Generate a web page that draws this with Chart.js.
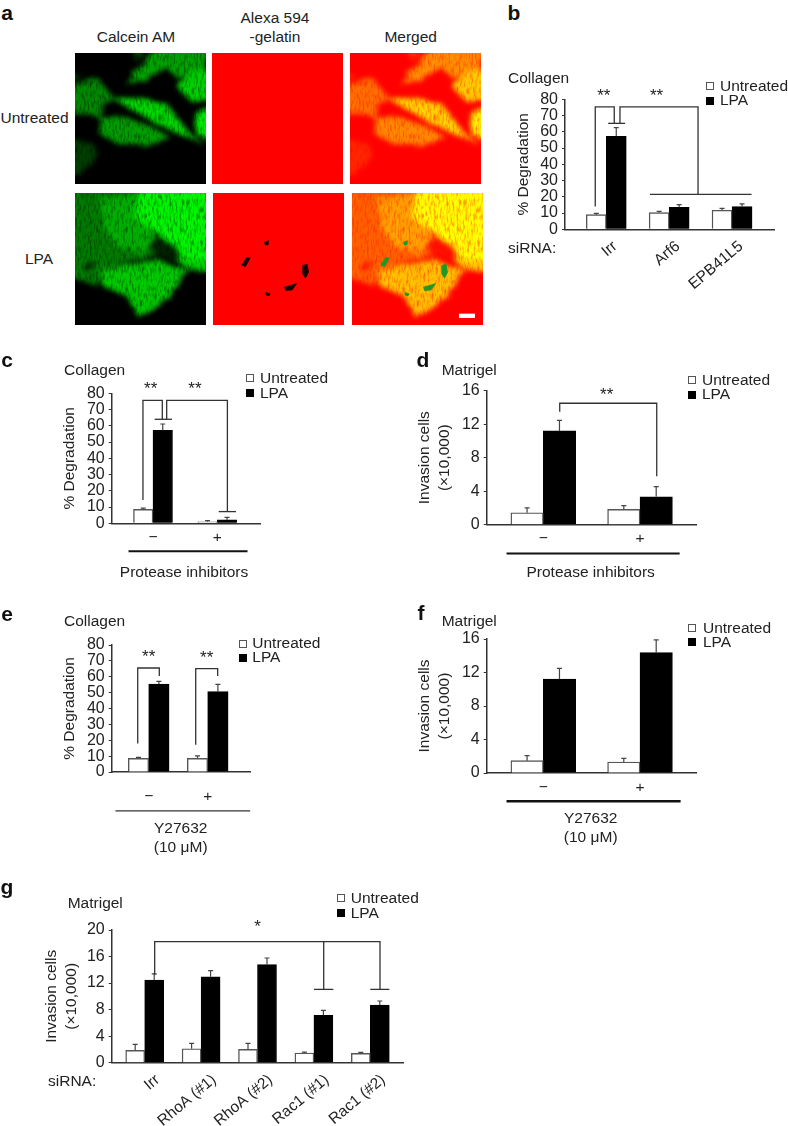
<!DOCTYPE html>
<html>
<head>
<meta charset="utf-8">
<title>Figure</title>
<script src="https://cdn.jsdelivr.net/npm/chart.js@4/dist/chart.umd.min.js"></script>
<style>
  html, body { margin: 0; padding: 0; background: #fff; }
  #page { position: relative; width: 788px; height: 1126px; overflow: hidden; font-family: "Liberation Sans", Arial, sans-serif; color: #222; }
  #page canvas, #page svg { position: absolute; }
  .lbl { position: absolute; white-space: nowrap; font-size: 15.5px; line-height: 18px; }
  .letter { font-size: 21px; font-weight: bold; color: #111; }
  .swatch { position: absolute; width: 6px; height: 6px; border: 1.2px solid #555; background: #fff; }
  .swatch.on { background: #000; border-color: #000; }
</style>
</head>
<body>
<div id="page"></div>
<script>
const legendLabels = ["Untreated", "LPA"];

// panel b
const bLabels = ["Irr", "Arf6", "EPB41L5"];
const bUntreated = [9.0, 10.3, 11.7];
const bLpa = [57.2, 13.5, 14.0];
const bUntreatedErr = [9.8, 11.0, 12.9];
const bLpaErr = [62.6, 15.2, 15.6];

// panel c
const cLabels = ["−", "+"];
const cUntreated = [8.6, 0.9];
const cLpa = [57.2, 2.1];
const cUntreatedErr = [9.4, 1.6];
const cLpaErr = [61.1, 3.7];

// panel d
const dLabels = ["−", "+"];
const dUntreated = [1.43, 1.83];
const dLpa = [11.2, 3.34];
const dUntreatedErr = [2.0, 2.27];
const dLpaErr = [12.46, 4.54];

// panel e
const eLabels = ["−", "+"];
const eUntreated = [8.6, 8.6];
const eLpa = [55.4, 50.6];
const eUntreatedErr = [9.2, 10.1];
const eLpaErr = [57.1, 55.2];

// panel f
const fLabels = ["−", "+"];
const fUntreated = [1.47, 1.31];
const fLpa = [11.2, 14.37];
const fUntreatedErr = [2.07, 1.75];
const fLpaErr = [12.5, 15.9];

// panel g
const gLabels = ["Irr", "RhoA (#1)", "RhoA (#2)", "Rac1 (#1)", "Rac1 (#2)"];
const gUntreated = [1.86, 2.1, 2.0, 1.46, 1.4];
const gLpa = [12.46, 12.96, 14.77, 7.14, 8.7];
const gUntreatedErr = [2.76, 2.9, 2.9, 1.6, 1.56];
const gLpaErr = [13.4, 13.87, 15.78, 7.9, 9.3];

// significance brackets, in axis units (x = group number, y = axis value)
const bBrackets = [
  { pts: [[0.825, 14], [0.825, 75.3], [1.127, 75.3], [1.127, 65.2]] },
  { pts: [[1.03, 65.2], [1.30, 65.2]] },
  { pts: [[1.218, 65.2], [1.218, 75.3], [2.459, 75.3], [2.459, 21.5]] },
  { pts: [[1.695, 21.5], [3.31, 21.5]] },
];
const bStars = [{ x: 0.96, y: 83.7, t: "**" }, { x: 1.80, y: 83.7, t: "**" }];

const cBrackets = [
  { pts: [[0.844, 14.4], [0.844, 75.7], [1.145, 75.7], [1.145, 64]] },
  { pts: [[1.026, 64], [1.295, 64]] },
  { pts: [[1.213, 64], [1.213, 75.7], [2.157, 75.7], [2.157, 7.2]] },
  { pts: [[2.022, 7.2], [2.291, 7.2]] },
  { pts: [[0.62, -17.2], [2.47, -17.2]], w: 2.2, c: "#111" },
];
const cStars = [{ x: 0.964, y: 84.1, t: "**" }, { x: 1.653, y: 84.1, t: "**" }];

const dBrackets = [
  { pts: [[1.17, 13.5], [1.17, 14.5], [2.173, 14.5], [2.173, 5.8]] },
  { pts: [[0.62, -3.45], [2.41, -3.45]], w: 2, c: "#111" },
];
const dStars = [{ x: 1.655, y: 15.8, t: "**" }];

const eBrackets = [
  { pts: [[0.814, 18], [0.814, 65.5], [1.18, 65.5], [1.18, 60.5]] },
  { pts: [[1.797, 17.2], [1.797, 65.1], [2.169, 65.1], [2.169, 60.5]] },
  { pts: [[0.437, -24.5], [2.72, -24.5]] },
];
const eStars = [{ x: 1.0, y: 74.1, t: "**" }, { x: 1.983, y: 73.3, t: "**" }];

const fBrackets = [
  { pts: [[0.62, -3.37], [2.42, -3.37]], w: 2.4, c: "#111" },
];

const gBrackets = [
  { pts: [[1.177, 13.2], [1.177, 18.24], [5.172, 18.24], [5.172, 11.05]] },
  { pts: [[4.174, 18.24], [4.174, 11.05]] },
  { pts: [[4.002, 11.05], [4.344, 11.05]] },
  { pts: [[5.0, 11.05], [5.337, 11.05]] },
];
const gStars = [{ x: 3.0, y: 20.85, t: "*" }];

const page = document.getElementById("page");

// draws the upper error whiskers, the brackets and the stars through the scales
const markup = {
  id: "markup",
  afterDatasetsDraw(chart, args, opts) {
    const { ctx, scales: { x, y } } = chart;
    ctx.save();
    chart.data.datasets.forEach((ds, di) => {
      const meta = chart.getDatasetMeta(di);
      ctx.strokeStyle = "#444";
      ctx.lineWidth = 1.2;
      ds.errTop.forEach((v, i) => {
        const bx = meta.data[i].x;
        const top = y.getPixelForValue(v);
        ctx.beginPath();
        ctx.moveTo(bx, meta.data[i].y);
        ctx.lineTo(bx, top);
        ctx.moveTo(bx - 2.5, top);
        ctx.lineTo(bx + 2.5, top);
        ctx.stroke();
      });
    });
    (opts.brackets || []).forEach((b) => {
      ctx.strokeStyle = b.c || "#333";
      ctx.lineWidth = b.w || 1.3;
      ctx.beginPath();
      b.pts.forEach((p, i) => {
        const px = x.getPixelForValue(p[0]);
        const py = y.getPixelForValue(p[1]);
        if (i === 0) ctx.moveTo(px, py);
        else ctx.lineTo(px, py);
      });
      ctx.stroke();
    });
    ctx.fillStyle = "#222";
    ctx.font = '17px "Liberation Sans"';
    ctx.textAlign = "center";
    ctx.textBaseline = "middle";
    (opts.stars || []).forEach((s) => {
      ctx.fillText(s.t, x.getPixelForValue(s.x), y.getPixelForValue(s.y) + 3);
    });
    ctx.restore();
  },
};

function barPanel(cfg) {
  const cv = document.createElement("canvas");
  cv.width = cfg.box.w;
  cv.height = cfg.box.h;
  cv.style.left = cfg.box.x + "px";
  cv.style.top = cfg.box.y + "px";
  page.appendChild(cv);

  const toPoints = (arr) => arr.map((v, i) => ({ x: i + 1, y: v }));
  const groups = cfg.labels.map((_, i) => i + 1);

  return new Chart(cv.getContext("2d"), {
    type: "bar",
    data: {
      datasets: [
        {
          label: legendLabels[0],
          data: toPoints(cfg.untreated),
          errTop: cfg.untreatedErr,
          backgroundColor: "#fff",
          borderColor: "#555",
          borderWidth: 1.4,
          barThickness: cfg.barW,
        },
        {
          label: legendLabels[1],
          data: toPoints(cfg.lpa),
          errTop: cfg.lpaErr,
          backgroundColor: "#000",
          borderColor: "#000",
          borderWidth: 1,
          barThickness: cfg.barW,
        },
      ],
    },
    options: {
      responsive: false,
      animation: false,
      layout: {
        padding: {
          left: 0,
          bottom: 0,
          top: cfg.axis.top - cfg.box.y,
          right: cfg.box.x + cfg.box.w - cfg.axis.right,
        },
      },
      scales: {
        x: {
          type: "linear",
          offset: false,
          min: cfg.xMin,
          max: cfg.xMax,
          afterBuildTicks: (s) => { s.ticks = groups.map((v) => ({ value: v })); },
          afterFit: (s) => { s.height = cfg.box.y + cfg.box.h - cfg.axis.bottom; },
          grid: { display: false, drawTicks: false },
          border: { color: "#333", width: 1.5 },
          ticks: {
            autoSkip: false,
            minRotation: cfg.rot || 0,
            maxRotation: cfg.rot || 0,
            padding: cfg.tickPad,
            labelOffset: cfg.labelOffset || 0,
            color: "#222",
            font: { family: "Liberation Sans", size: 15.5 },
            callback: (v) => cfg.labels[v - 1],
          },
        },
        y: {
          min: 0,
          max: cfg.yMax,
          afterFit: (s) => { s.width = cfg.axis.left - cfg.box.x; },
          grid: { drawOnChartArea: false, tickLength: 3, tickColor: "#333" },
          border: { color: "#333", width: 1.5 },
          ticks: { stepSize: cfg.yStep, autoSkip: false, padding: 4, color: "#222", font: { family: "Liberation Sans", size: 16 } },
          title: {
            display: true,
            text: cfg.yTitle,
            color: "#222",
            font: { family: "Liberation Sans", size: 15.5, lineHeight: 1.29 },
            padding: { top: cfg.titleX - cfg.box.x - 10, bottom: 0 },
          },
        },
      },
      plugins: {
        legend: { display: false },
        tooltip: { enabled: false },
        markup: { brackets: cfg.brackets, stars: cfg.stars },
      },
    },
    plugins: [markup],
  });
}

function label(text, x, y, cls) {
  const d = document.createElement("div");
  d.className = "lbl" + (cls ? " " + cls : "");
  d.textContent = text;
  d.style.left = x + "px";
  d.style.top = y + "px";
  d.style.transform = "translateY(-50%)";
  page.appendChild(d);
  return d;
}
function centered(text, x, y, cls) {
  const d = label(text, x, y, cls);
  d.style.transform = "translate(-50%,-50%)";
}
function legendAt(x, y1, y2, textX, t1, t2) {
  [[y1, t1, ""], [y2, t2, " on"]].forEach(([sy, ty, on], i) => {
    const s = document.createElement("div");
    s.className = "swatch" + on;
    s.style.left = x + "px";
    s.style.top = sy + "px";
    page.appendChild(s);
    label(legendLabels[i], textX, ty);
  });
}

barPanel({
  box: { x: 490, y: 60, w: 298, h: 250 }, axis: { left: 565, right: 774, top: 99.3, bottom: 229.3 },
  xMin: 0.344, xMax: 3.667, yMax: 80, yStep: 10, barW: 20, tickPad: 8, rot: 40, labelOffset: 9,
  labels: bLabels, untreated: bUntreated, lpa: bLpa, untreatedErr: bUntreatedErr, lpaErr: bLpaErr,
  yTitle: "% Degradation", titleX: 523.3, brackets: bBrackets, stars: bStars,
});
barPanel({
  box: { x: 0, y: 340, w: 350, h: 230 }, axis: { left: 111.7, right: 260, top: 393.3, bottom: 523.3 },
  xMin: 0.358, xMax: 2.664, yMax: 80, yStep: 10, barW: 19.5, tickPad: 5,
  labels: cLabels, untreated: cUntreated, lpa: cLpa, untreatedErr: cUntreatedErr, lpaErr: cLpaErr,
  yTitle: "% Degradation", titleX: 70, brackets: cBrackets, stars: cStars,
});
barPanel({
  box: { x: 400, y: 340, w: 388, h: 230 }, axis: { left: 486.7, right: 696, top: 390.7, bottom: 524.7 },
  xMin: 0.415, xMax: 2.579, yMax: 16, yStep: 4, barW: 32.4, tickPad: 5,
  labels: dLabels, untreated: dUntreated, lpa: dLpa, untreatedErr: dUntreatedErr, lpaErr: dLpaErr,
  yTitle: ["Invasion cells", "(×10,000)"], titleX: 425, brackets: dBrackets, stars: dStars,
});
barPanel({
  box: { x: 0, y: 600, w: 350, h: 230 }, axis: { left: 111.7, right: 250, top: 645, bottom: 772 },
  xMin: 0.373, xMax: 2.717, yMax: 80, yStep: 10, barW: 20.4, tickPad: 15,
  labels: eLabels, untreated: eUntreated, lpa: eLpa, untreatedErr: eUntreatedErr, lpaErr: eLpaErr,
  yTitle: "% Degradation", titleX: 70, brackets: eBrackets, stars: eStars,
});
barPanel({
  box: { x: 400, y: 600, w: 388, h: 230 }, axis: { left: 486.7, right: 696, top: 639, bottom: 773 },
  xMin: 0.415, xMax: 2.579, yMax: 16, yStep: 4, barW: 32.4, tickPad: 5,
  labels: fLabels, untreated: fUntreated, lpa: fLpa, untreatedErr: fUntreatedErr, lpaErr: fLpaErr,
  yTitle: ["Invasion cells", "(×10,000)"], titleX: 425, brackets: fBrackets, stars: [],
});
barPanel({
  box: { x: 0, y: 870, w: 450, h: 256 }, axis: { left: 111.7, right: 403.3, top: 930, bottom: 1062.7 },
  xMin: 0.415, xMax: 5.585, yMax: 20, yStep: 4, barW: 19, tickPad: 8, rot: 40, labelOffset: 13,
  labels: gLabels, untreated: gUntreated, lpa: gLpa, untreatedErr: gUntreatedErr, lpaErr: gLpaErr,
  yTitle: ["Invasion cells", "(×10,000)"], titleX: 51.7, brackets: gBrackets, stars: gStars,
});

// loose outlines of the cells in the micrographs: [intensity, points]
const cellsTop = [
  [0.35, "390,130 435,130 412,187"],
  [0.66, "370,250 440,170 480,130 650,130 600,220 530,230 500,205 430,240"],
  [0.85, "530,260 560,215 650,195 650,300 570,300"],
  [0.55, "195,260 290,230 340,290 310,320 300,350 240,340 195,335"],
  [0.64, "300,350 340,340 440,370 510,410 450,440 350,430 300,400"],
  [0.88, "330,290 420,290 500,310 570,400 610,430 550,405 470,370"],
  [0.95, "580,340 650,315 650,430 590,400"],
  [0.25, "195,410 280,430 290,470 240,520 195,520"],
  [0.25, "195,205 245,230 195,250"],
  [0.06, "484,345 490,345 490,358 484,358"],
  [0.06, "492,325 498,325 498,332 492,332"],
];
const cellsBottom = [
  [0.5, "195,555 420,555 400,650 470,770 330,800 290,860 195,830"],
  [0.72, "300,590 420,590 470,720 420,760 350,740 310,680"],
  [1, "420,555 650,555 650,790 560,780 470,700 400,650"],
  [0.82, "300,810 470,780 560,810 520,880 415,955 380,890 310,860"],
  [0.85, "470,700 560,780 650,790 650,815 570,810 530,785"],
  [0.14, "445,735 490,720 535,750 530,785 480,775"],
  [0.15, "250,790 285,785 280,810 255,812"],
];
const holes = [
  "790,725 805,720 803,735 793,735",
  "722,795 738,770 750,772 735,800",
  "905,795 920,790 925,815 915,835 905,820",
  "850,860 890,848 875,870 855,872",
  "795,875 810,880 805,888 795,885",
];

const svgNS = "http://www.w3.org/2000/svg";
function micro(x, y, size, viewBox, bg, draw) {
  const s = document.createElementNS(svgNS, "svg");
  s.setAttribute("viewBox", viewBox);
  s.setAttribute("width", size);
  s.setAttribute("height", size);
  s.style.left = x + "px";
  s.style.top = y + "px";
  s.style.background = bg;
  draw(s);
  page.appendChild(s);
}
function poly(parent, pts, fill) {
  const p = document.createElementNS(svgNS, "polygon");
  p.setAttribute("points", pts);
  p.setAttribute("fill", fill);
  parent.appendChild(p);
}
let filterCount = 0;
function cellLayer(cells, colorOf, redBase) {
  return (s) => {
    const id = "cellf" + (++filterCount);
    const f = document.createElementNS(svgNS, "filter");
    f.setAttribute("id", id);
    f.setAttribute("filterUnits", "userSpaceOnUse");
    f.setAttribute("x", "0");
    f.setAttribute("y", "0");
    f.setAttribute("width", "1600");
    f.setAttribute("height", "1200");
    f.setAttribute("color-interpolation-filters", "sRGB");
    // soft edges plus a fine streaky grain on the green channel only
    f.innerHTML =
      '<feTurbulence type="fractalNoise" baseFrequency="0.02 0.05" numOctaves="2" seed="4" result="n"/>' +
      '<feDisplacementMap in="SourceGraphic" in2="n" scale="22" result="d"/>' +
      '<feGaussianBlur in="d" stdDeviation="8" result="soft"/>' +
      '<feTurbulence type="fractalNoise" baseFrequency="0.16 0.05" numOctaves="2" seed="9" result="fine"/>' +
      '<feColorMatrix in="fine" type="matrix" values="0 0 0 0 ' + (redBase ? 1 : 0) + '  1.6 0 0 0 0.1  0 0 0 0 0  0 0 0 0 1" result="grain"/>' +
      '<feComposite in="soft" in2="grain" operator="arithmetic" k1="0.7" k2="0.3" k3="0" k4="0"/>';
    s.appendChild(f);
    const g = document.createElementNS(svgNS, "g");
    g.setAttribute("filter", "url(#" + id + ")");
    cells.forEach(([v, pts]) => poly(g, pts, colorOf(v)));
    s.appendChild(g);
  };
}
const green = (v) => `rgb(0,${Math.round(245 * v)},0)`;
const merged = (v) => `rgb(255,${Math.round(255 * Math.pow(v, 1.4))},0)`;

micro(74.5, 52.5, 131, "224 157 393 393", "#000", cellLayer(cellsTop, green, false));
micro(212, 52.5, 131, "637 157 393 393", "#ff0000", () => {});
micro(349.7, 52.5, 131, "224 157 393 393", "#ff0000", cellLayer(cellsTop, merged, true));
micro(74.7, 193.3, 131.3, "224 580 393 393", "#000", cellLayer(cellsBottom, green, false));
micro(212.7, 193.3, 131.3, "637 578 394 394", "#ff0000", (s) => {
  holes.forEach((h) => poly(s, h, "#1a0000"));
});
micro(351.7, 193.3, 131.3, "224 580 393 393", "#ff0000", cellLayer(cellsBottom, merged, true));
micro(351.7, 193.3, 131.3, "637 578 394 394", "transparent", (s) => {
  holes.forEach((h) => poly(s, h, "#1c9a25"));
  const r = document.createElementNS(svgNS, "rect");
  r.setAttribute("x", 958);
  r.setAttribute("y", 940);
  r.setAttribute("width", 48);
  r.setAttribute("height", 13);
  r.setAttribute("fill", "#fff");
  s.appendChild(r);
});

// text around the plots
centered("a", 7, 13, "letter");
centered("b", 514, 13, "letter");
centered("c", 7, 360, "letter");
centered("d", 423, 360, "letter");
centered("e", 7, 614, "letter");
centered("f", 421, 613, "letter");
centered("g", 7, 887, "letter");

centered("Calcein AM", 136, 36.7);
centered("Alexa 594", 275, 18.3);
centered("-gelatin", 275, 36.7);
centered("Merged", 410.7, 36.7);
centered("Untreated", 34.5, 117.7);
centered("LPA", 39, 259.3);

label("Collagen", 508, 78);
label("siRNA:", 508, 248);
legendAt(706, 82, 97, 720, 86, 100);

label("Collagen", 64, 370);
legendAt(246, 374, 389, 260, 378.3, 392.7);
centered("Protease inhibitors", 184, 571.7);

label("Matrigel", 441.7, 370);
legendAt(688, 376, 391, 702, 380, 394);
centered("Protease inhibitors", 590.7, 571.7);

label("Collagen", 64, 620.7);
legendAt(238.7, 640, 654, 252.3, 643.3, 657.3);
centered("Y27632", 180.7, 827.7);
centered("(10 μM)", 180.7, 847);

label("Matrigel", 441.7, 621);
legendAt(688, 624, 638, 703, 628.3, 642.3);
centered("Y27632", 590.7, 817.7);
centered("(10 μM)", 590.7, 837.3);

label("Matrigel", 67.7, 902.7);
label("siRNA:", 48, 1080.7);
legendAt(337.3, 894, 909, 350.7, 897.7, 912.7);
</script>
</body>
</html>
